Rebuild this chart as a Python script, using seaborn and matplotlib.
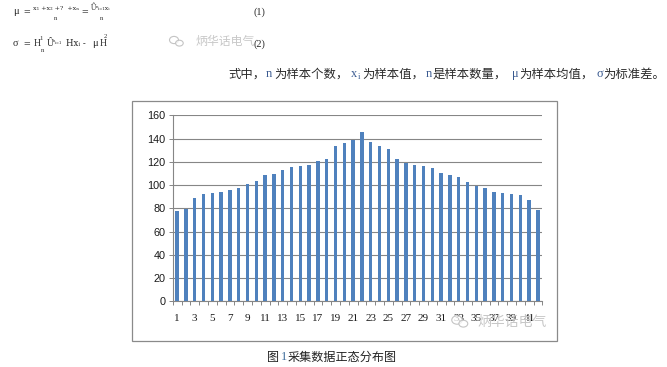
import matplotlib
matplotlib.use("Agg")
import matplotlib.pyplot as plt
from matplotlib.patches import Rectangle, Ellipse
import seaborn as sns

W, H = 667, 367

sample_no = list(range(1, 43))
sample_values = [77.7, 79.4, 88.9, 92.3, 93.2, 94.0, 95.8, 97.5, 101.0, 103.5,
                 108.7, 109.5, 113.0, 115.6, 116.4, 117.3, 120.4, 122.4, 133.6, 136.2,
                 138.8, 145.7, 137.0, 133.6, 131.0, 122.4, 119.0, 117.3, 116.4, 114.7,
                 110.4, 108.7, 107.0, 102.7, 99.5, 97.5, 94.0, 93.2, 92.3, 91.5,
                 87.2, 78.6]
y_ticks = [0, 20, 40, 60, 80, 100, 120, 140, 160]
watermark = "炳华话电气"
body_parts = [(228, "式中，", None), (265.7, "n", "#3a5a90"), (274, "为样本个数，", None),
              (350.5, "x", "#3a5a90"), (362.7, "为样本值，", None), (425.7, "n", "#3a5a90"),
              (433, "是样本数量，", None), (511.7, "μ", "#3a5a90"), (519, "为样本均值，", None),
              (596.5, "σ", "#3a5a90"), (603.7, "为标准差。", None)]

sns.set_theme(style="white")
CJK = ["Noto Sans CJK SC", "DejaVu Sans"]
SERIF = ["Liberation Serif", "DejaVu Serif"]
plt.rcParams["font.family"] = CJK

fig = plt.figure(figsize=(W / 100, H / 100), dpi=100, facecolor="white")


def fx(x):
    return x / W


def fy(y):
    return 1 - y / H


def put(x, y, s, size=8, color="#2b2b2b", family=None, ha="left", **kw):
    return fig.text(fx(x), fy(y), s, fontsize=size, color=color, ha=ha, va="center",
                    family=family or CJK, **kw)


# chart frame
fig.add_artist(Rectangle((fx(131.5), fy(340.7)), 425.8 / W, 239.4 / H, transform=fig.transFigure,
                         fill=False, edgecolor="#8a8a8a", linewidth=0.9))

ax = fig.add_axes([fx(172.7), fy(301.3), 369.6 / W, 186 / H])
ax.set_axisbelow(True)
sns.barplot(x=sample_no, y=sample_values, color="#4F81BD", saturation=1, width=0.38,
            linewidth=0, ax=ax, zorder=3)
ax.set_xlim(-0.5, 41.5)
ax.set_ylim(0, 160)
ax.set_yticks(y_ticks)
ax.set_yticklabels([str(v) for v in y_ticks], family=["Liberation Sans"], fontsize=7.8, color="#1a1a1a")
ax.yaxis.grid(True, color="#868686", linewidth=0.8)
ax.xaxis.grid(False)
ax.set_xticks(range(0, 42, 2))
ax.set_xticklabels([str(n) for n in sample_no[::2]], family=SERIF, fontsize=8, color="#1a1a1a")
ax.set_xticks([i - 0.5 for i in range(43)], minor=True)
ax.tick_params(axis="x", which="major", length=0, pad=9)
ax.tick_params(axis="x", which="minor", length=3, width=0.7, color="#868686", bottom=True)
ax.tick_params(axis="y", length=3, width=0.7, color="#868686", left=True, pad=2)
ax.set_xlabel("")
ax.set_ylabel("")
for side in ("top", "right"):
    ax.spines[side].set_visible(False)
for side in ("left", "bottom"):
    ax.spines[side].set_color("#868686")
    ax.spines[side].set_linewidth(0.8)

# caption and body text
put(267, 357, "图", size=8.7, color="#222222")
put(280.5, 357, "1", size=8.7, color="#3a6a9a", family=SERIF)
put(288, 357, "采集数据正态分布图", size=8.7, color="#222222")
for x, s, col in body_parts:
    is_latin = col is not None
    put(x, 74, s, size=8.9, color=col or "#2b2b2b", family=SERIF if is_latin else CJK)
put(357.5, 77, "i", size=6, color="#3a5a90", family=SERIF)

# formulas
F = dict(family=SERIF, color="#2b2b2b")
put(13, 12, "μ", size=7.5, **F)
put(23, 12, "=", size=8.5, **F)
put(33, 8, "x₁ +x₂ +?  +xₙ", size=4.6, family=["DejaVu Serif"], color="#2b2b2b")
put(54, 18.5, "n", size=4.8, **F)
put(81, 12, "=", size=8.5, **F)
put(91, 8, "Û",  size=5.5, **F)
put(96, 8.5, "ⁿᵢ₌₁xᵢ", size=4.4, family=["DejaVu Serif"], color="#2b2b2b")
put(100, 18.5, "n", size=4.8, **F)
put(254, 12, "(1)", size=7.5, **F)
put(13, 44, "σ", size=7.5, **F)
put(23, 44, "=", size=8.5, **F)
put(34, 44, "H", size=7, **F)
put(39, 38.5, "1", size=4.8, **F)
put(41, 50, "n", size=4.8, **F)
put(47, 43, "Û", size=7, **F)
put(53, 43, "ⁿᵢ₌₁", size=4.2, family=["DejaVu Serif"], color="#2b2b2b")
put(66, 44, "Hxᵢ -", size=6.2, family=["DejaVu Serif"], color="#2b2b2b")
put(92, 44, "μ", size=7.5, **F)
put(100, 44, "H", size=7, **F)
put(104, 36, "2", size=4.8, **F)
put(254, 44, "(2)", size=7.5, **F)


def mark(x, y, size, text_x):
    for dx, dy, w, h in ((0, 0, 1.0, 0.8), (0.6, 0.35, 0.85, 0.65)):
        fig.add_artist(Ellipse((fx(x + dx * size), fy(y + dy * size)), w * size / W, h * size / H,
                               transform=fig.transFigure, facecolor=(1, 1, 1, 0.75),
                               edgecolor="#c4c4c4", linewidth=0.8, zorder=8))
    fig.text(fx(text_x), fy(y + 0.2 * size), watermark, fontsize=size * 0.95, color="#c8c8c8",
             ha="left", va="center", family=CJK, zorder=9)


mark(174, 40, 9, 195)
mark(457, 320, 10.5, 477)

fig.savefig("out.png", dpi=100)
